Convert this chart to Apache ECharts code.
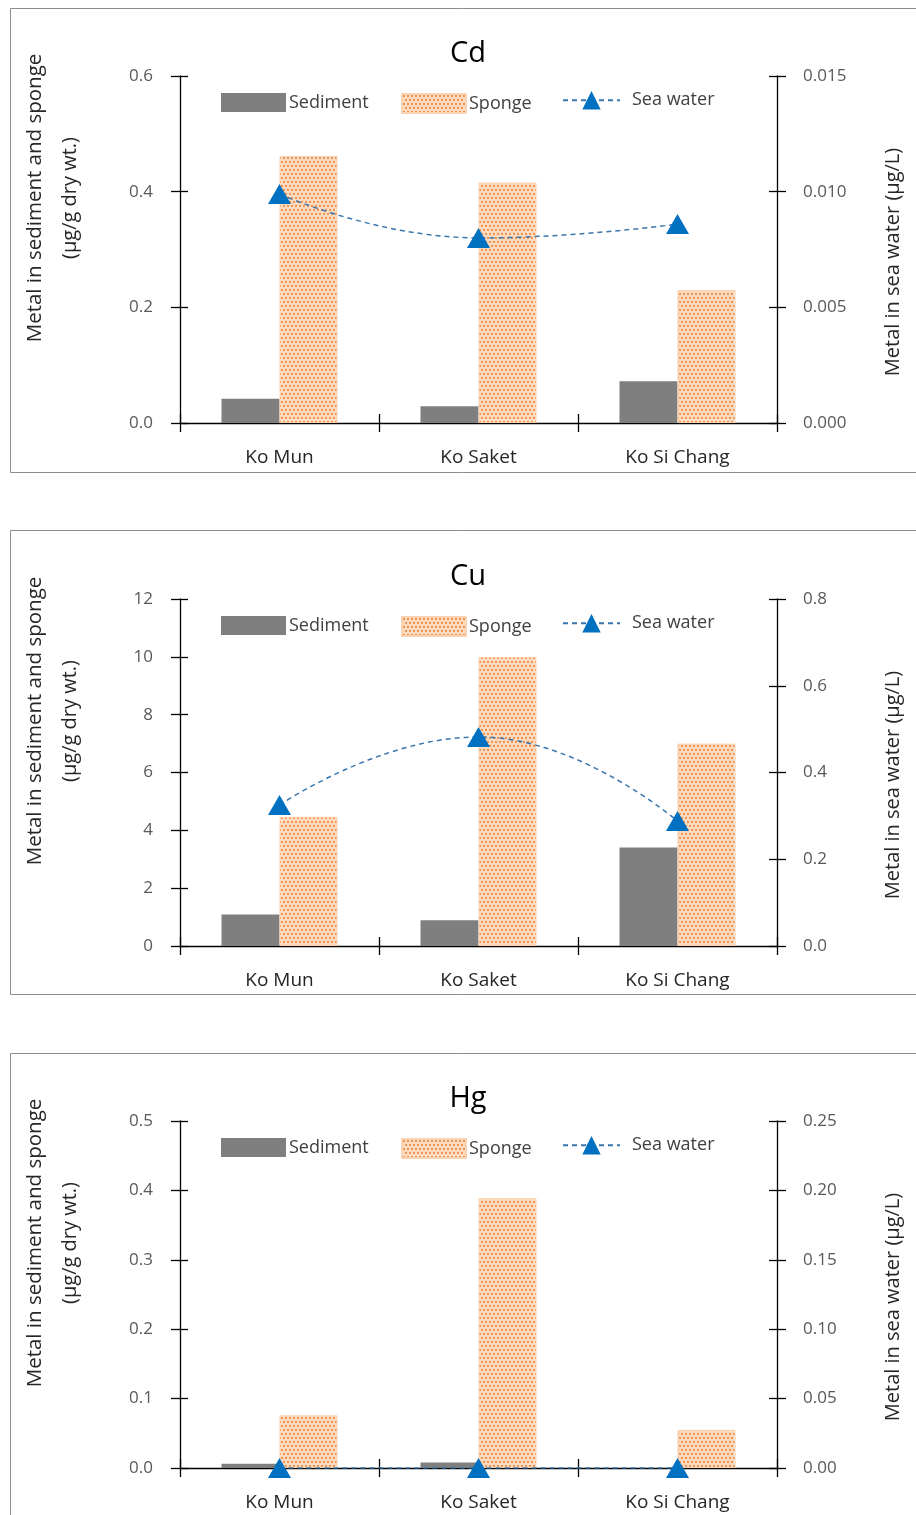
<!DOCTYPE html>
<html>
<head>
<meta charset="utf-8">
<script src="https://cdn.jsdelivr.net/npm/echarts@6/dist/echarts.min.js"></script>
<style>
html,body{margin:0;padding:0;background:#fff;}
#chart{width:916px;height:1515px;}
</style>
</head>
<body>
<div id="chart"></div>
<script>
// ---- data ----
var categories = ['Ko Mun', 'Ko Saket', 'Ko Si Chang'];
var metals = ['Cd', 'Cu', 'Hg'];

var cdSediment = [0.042, 0.029, 0.072];
var cdSponge   = [0.462, 0.416, 0.230];
var cdSeaWater = [0.0099, 0.0080, 0.0086];

var cuSediment = [1.09, 0.89, 3.41];
var cuSponge   = [4.47, 10.0, 7.0];
var cuSeaWater = [0.325, 0.482, 0.288];

var hgSediment = [0.006, 0.008, 0.0];
var hgSponge   = [0.076, 0.389, 0.055];
var hgSeaWater = [0, 0, 0];

// axis ranges (min 0, max, interval, decimals)
var leftMax      = [0.6, 12, 0.5];
var leftInterval = [0.2, 2, 0.1];
var leftDecimals = [1, 0, 1];
var rightMax      = [0.015, 0.8, 0.25];
var rightInterval = [0.005, 0.2, 0.05];
var rightDecimals = [3, 1, 2];

var leftTitle1 = 'Metal in sediment and sponge';
var leftTitle2 = '(µg/g dry wt.)';
var rightTitle = 'Metal in sea water (µg/L)';

var sediments = [cdSediment, cuSediment, hgSediment];
var sponges = [cdSponge, cuSponge, hgSponge];
var seaWaters = [cdSeaWater, cuSeaWater, hgSeaWater];

// ---- dotted pattern for sponge ----
function makePattern() {
  var c = document.createElement('canvas');
  c.width = 8; c.height = 8;
  var g = c.getContext('2d');
  g.fillStyle = '#FCDDC2';
  g.fillRect(0, 0, 8, 8);
  g.fillStyle = '#EC9050';
  var pts = [[2, 2], [6, 2], [0, 6], [4, 6], [8, 6]];
  pts.forEach(function (p) {
    g.beginPath();
    g.arc(p[0], p[1], 1.15, 0, Math.PI * 2);
    g.fill();
  });
  return { image: c, repeat: 'repeat' };
}
var spongeFill = makePattern();

var FONT = '"Open Sans", "Noto Sans", sans-serif';
var OFF = [0, 523, 1045];
var GRID_TOP = 76, GRID_H = 347, GRID_LEFT = 180, GRID_W = 597;

var grids = [], xAxes = [], yAxes = [], series = [], legends = [], graphics = [];

for (var i = 0; i < 3; i++) {
  var o = OFF[i];
  grids.push({ left: GRID_LEFT, top: GRID_TOP + o, width: GRID_W, height: GRID_H, containLabel: false, outerBoundsMode: 'none' });

  var lineBlack = { color: '#000', width: 1.3 };
  xAxes.push({
    type: 'category', gridIndex: i, data: categories, position: 'bottom',
    axisLine: { show: true, lineStyle: lineBlack },
    axisTick: { show: true, inside: false, length: 9, lineStyle: lineBlack },
    axisLabel: { fontFamily: FONT, fontSize: 19, color: '#262626', margin: 25 },
    splitLine: { show: false }
  });
  xAxes.push({
    type: 'category', gridIndex: i, data: categories, position: 'bottom',
    axisLine: { show: false },
    axisTick: { show: true, inside: true, length: 9, lineStyle: lineBlack },
    axisLabel: { show: false },
    splitLine: { show: false }
  });

  (function (i) {
    yAxes.push({
      type: 'value', gridIndex: i, position: 'left', min: 0, max: leftMax[i], interval: leftInterval[i],
      axisLine: { show: true, lineStyle: lineBlack },
      axisTick: { show: true, inside: false, length: 9, lineStyle: lineBlack },
      axisLabel: { fontFamily: FONT, fontSize: 17, color: '#595959', margin: 27,
        formatter: function (v) { return v.toFixed(leftDecimals[i]); } },
      splitLine: { show: false }
    });
    yAxes.push({
      type: 'value', gridIndex: i, position: 'left', min: 0, max: leftMax[i], interval: leftInterval[i],
      axisLine: { show: false },
      axisTick: { show: true, inside: true, length: 8, lineStyle: lineBlack },
      axisLabel: { show: false }, splitLine: { show: false }
    });
    yAxes.push({
      type: 'value', gridIndex: i, position: 'right', min: 0, max: rightMax[i], interval: rightInterval[i],
      axisLine: { show: true, lineStyle: lineBlack },
      axisTick: { show: true, inside: false, length: 9, lineStyle: lineBlack },
      axisLabel: { fontFamily: FONT, fontSize: 17, color: '#595959', margin: 26,
        formatter: function (v) { return v.toFixed(rightDecimals[i]); } },
      splitLine: { show: false }
    });
    yAxes.push({
      type: 'value', gridIndex: i, position: 'right', min: 0, max: rightMax[i], interval: rightInterval[i],
      axisLine: { show: false },
      axisTick: { show: true, inside: true, length: 8, lineStyle: lineBlack },
      axisLabel: { show: false }, splitLine: { show: false }
    });
  })(i);

  series.push({
    name: 'Sediment', type: 'bar', xAxisIndex: 2 * i, yAxisIndex: 4 * i,
    data: sediments[i], barWidth: 58, barGap: '0%',
    itemStyle: { color: '#7F7F7F' }, z: 2
  });
  series.push({
    name: 'Sponge', type: 'bar', xAxisIndex: 2 * i, yAxisIndex: 4 * i,
    data: sponges[i], barWidth: 58, barGap: '0%',
    itemStyle: { color: spongeFill, borderColor: '#F9D3B2', borderWidth: 1 }, z: 2
  });
  series.push({
    name: 'Sea water', type: 'line', xAxisIndex: 2 * i, yAxisIndex: 4 * i + 2,
    data: seaWaters[i], smooth: true,
    symbol: 'triangle', symbolSize: [23, 20], showSymbol: true,
    itemStyle: { color: '#0070C0' },
    lineStyle: { color: '#3A76AE', width: 1.5, type: [5, 4] },
    z: 5
  });

  legends.push({
    data: [{ name: 'Sediment', icon: 'rect' }], left: 221, top: 93 + o, itemWidth: 65, itemHeight: 19, padding: 0,
    textStyle: { fontFamily: FONT, fontSize: 18, color: '#404040', padding: [0, 0, 6, -2] }
  });
  legends.push({
    data: [{ name: 'Sponge', icon: 'rect' }], left: 401, top: 93 + o, itemWidth: 64, itemHeight: 19, padding: 0,
    textStyle: { fontFamily: FONT, fontSize: 18, color: '#404040', padding: [0, 0, 8, -2] }
  });
  legends.push({
    data: ['Sea water'], left: 562, top: 91 + o, itemWidth: 57, itemHeight: 23, padding: 0,
    textStyle: { fontFamily: FONT, fontSize: 18, color: '#404040', padding: [0, 0, 4, 7] }
  });

  // panel border
  graphics.push({
    type: 'rect', z: -10, silent: true,
    shape: { x: 10.5, y: 8.5 + o - (i === 1 ? 1 : 0), width: 940, height: i === 2 ? 500 : 464 },
    style: { fill: 'none', stroke: '#8C8C8C', lineWidth: 1 }
  });
  // metal title
  graphics.push({
    type: 'text', x: 468, y: 54 + o,
    style: { text: metals[i], fontFamily: FONT, fontSize: 29, fill: '#000', align: 'center', verticalAlign: 'middle' }
  });
  // left axis titles
  graphics.push({
    type: 'text', x: 35, y: 198 + o, rotation: Math.PI / 2,
    style: { text: leftTitle1, fontFamily: FONT, fontSize: 20.5, fill: '#262626', align: 'center', verticalAlign: 'middle' }
  });
  graphics.push({
    type: 'text', x: 70, y: 198 + o, rotation: Math.PI / 2,
    style: { text: leftTitle2, fontFamily: FONT, fontSize: 20, fill: '#262626', align: 'center', verticalAlign: 'middle' }
  });
  // right axis title
  graphics.push({
    type: 'text', x: 893, y: 262 + o, rotation: Math.PI / 2,
    style: { text: rightTitle, fontFamily: FONT, fontSize: 20, fill: '#262626', align: 'center', verticalAlign: 'middle' }
  });
}

var chart = echarts.init(document.getElementById('chart'), null, { renderer: 'canvas' });
chart.setOption({
  backgroundColor: '#fff',
  animation: false,
  textStyle: { fontFamily: FONT },
  grid: grids,
  xAxis: xAxes,
  yAxis: yAxes,
  legend: legends,
  series: series,
  graphic: graphics
});
</script>
</body>
</html>
